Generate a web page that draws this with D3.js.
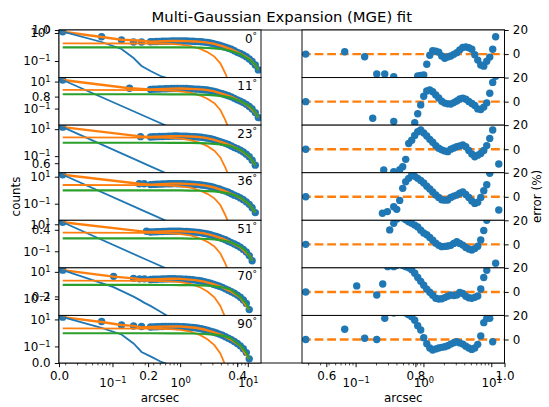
<!DOCTYPE html>
<html><head><meta charset="utf-8">
<script src="https://cdn.jsdelivr.net/npm/d3@7"></script>
<style>
body{margin:0;background:#fff}
svg{display:block}
text{font-family:"DejaVu Sans",sans-serif}
</style>
</head><body>
<svg id="chart" width="549" height="407"></svg>
<script>
// ---------------- data ----------------
const sectorAngles = [0, 11, 23, 36, 51, 70, 90];
const radiusGrid = [0.365, 0.404, 0.447, 0.495, 0.548, 0.607, 0.672, 0.744, 0.824, 0.912,
  1.01, 1.12, 1.24, 1.37, 1.52, 1.68, 1.86, 2.06, 2.28, 2.53, 2.80, 3.10, 3.43, 3.80, 4.21,
  4.66, 5.16, 5.71, 6.32, 7.00, 7.75, 8.58, 9.50, 10.5, 11.6, 12.9, 14.3];
const pointsPerSector = [37, 37, 36, 36, 35, 34, 34];

const innerRadius = [
  [0.0184, 0.0691, 0.136, 0.205, 0.269],
  [0.0184, 0.1788],
  [0.0184, 0.26],
  [0.0184, 0.2486, 0.2946],
  [0.0184, 0.3185],
  [0.0184, 0.1039, 0.205, 0.2512, 0.2977],
  [0.0184, 0.0691, 0.136, 0.205, 0.269]
];
const innerCounts = [
  [1.11, 0.738, 0.562, 0.477, 0.477],
  [13.14, 3.19],
  [14.06, 2.78],
  [14.06, 3.03, 3.03],
  [14.06, 3.03],
  [13.36, 4.64, 3.30, 3.03, 3.03],
  [14.8, 7.11, 3.91, 3.30, 3.03]
];
const innerError = [
  [0, 2, -2.2, -16.5, -16.5],
  [0, -13.8],
  [0, -17.3],
  [0, -13.7, -12.3],
  [0, 12],
  [0, 5, -2.5, 6.6, 21],
  [0, 8.5, 1, 0, 17.6]
];
const gridCounts = [
  [0.485, 0.493, 0.497, 0.501, 0.505, 0.509, 0.514, 0.518, 0.522, 0.522, 0.522, 0.518, 0.518, 0.514, 0.505, 0.497, 0.493, 0.485, 0.473, 0.458, 0.439, 0.418, 0.392, 0.364, 0.338, 0.311, 0.287, 0.262, 0.231, 0.204, 0.185, 0.164, 0.141, 0.118, 0.096, 0.072, 0.048],
  [2.64, 2.74, 2.78, 2.83, 2.88, 2.93, 2.98, 3.03, 3.08, 3.08, 3.08, 3.03, 3.03, 2.98, 2.88, 2.78, 2.74, 2.64, 2.51, 2.35, 2.15, 1.95, 1.70, 1.455, 1.25, 1.05, 0.887, 0.736, 0.570, 0.441, 0.359, 0.278, 0.205, 0.141, 0.092, 0.0505, 0.0215],
  [2.64, 2.74, 2.78, 2.83, 2.88, 2.93, 2.98, 3.03, 3.08, 3.08, 3.03, 3.03, 2.98, 2.88, 2.78, 2.74, 2.64, 2.51, 2.35, 2.15, 1.95, 1.70, 1.455, 1.25, 1.05, 0.887, 0.736, 0.570, 0.441, 0.359, 0.278, 0.205, 0.141, 0.092, 0.0505, 0.0215],
  [2.60, 2.70, 2.76, 2.83, 2.90, 2.95, 3.00, 3.05, 3.08, 3.05, 3.03, 3.00, 2.95, 2.86, 2.76, 2.70, 2.60, 2.46, 2.30, 2.10, 1.90, 1.66, 1.42, 1.22, 1.02, 0.86, 0.71, 0.55, 0.43, 0.35, 0.27, 0.20, 0.138, 0.090, 0.050, 0.022],
  [2.70, 2.76, 2.83, 2.88, 2.93, 2.98, 3.03, 3.05, 3.08, 3.05, 3.03, 2.98, 2.90, 2.80, 2.72, 2.62, 2.48, 2.32, 2.12, 1.92, 1.68, 1.44, 1.24, 1.04, 0.87, 0.72, 0.56, 0.44, 0.35, 0.27, 0.20, 0.138, 0.088, 0.048, 0.020],
  [2.74, 2.80, 2.86, 2.92, 2.97, 3.02, 3.06, 3.08, 3.06, 3.03, 2.98, 2.90, 2.80, 2.70, 2.60, 2.46, 2.30, 2.10, 1.88, 1.64, 1.42, 1.22, 1.02, 0.86, 0.71, 0.55, 0.43, 0.34, 0.26, 0.19, 0.13, 0.083, 0.045, 0.016],
  [2.76, 2.82, 2.88, 2.94, 2.99, 3.04, 3.08, 3.08, 3.05, 3.00, 2.94, 2.86, 2.76, 2.66, 2.55, 2.40, 2.22, 2.02, 1.80, 1.58, 1.36, 1.16, 0.98, 0.82, 0.67, 0.52, 0.40, 0.31, 0.23, 0.165, 0.11, 0.068, 0.035, 0.012]
];
const gridError = [
  [-18.8, -25, -25, -26, -27, -26, -25, -24, -18.2, -17.8, -17.4, -8.5, -1, 2.8, 2.3, 1.5, -1.5, -3.5, -2.4, -1.6, -0.2, 1.2, 3.5, 5.5, 6, 5.3, 4, -0.5, -5, -9, -10, -6, -2.5, 4, 14.4, 25, 30],
  [-16.5, -25, -26, -27, -27, -26, -24, -17.5, -10, -2.7, 4.5, 8.8, 9.8, 8.2, 5.6, 3, 0.4, -1.2, -1.8, -2, -0.8, 0.5, 2.3, 2.9, 2, 0.2, -1.5, -3.2, -6, -6.5, -4.5, -1, 7, 16, 21, 26, 30],
  [-18.6, -20, -17, -14.5, -8.4, 4.8, 7.5, 11.5, 14.5, 16, 13.5, 11, 8.2, 5.8, 3, 0.8, -0.5, -1.4, -2, 0, 1, 2, 2.8, 3.5, 2.1, -1, -4, -6.2, -4.9, -3.5, -1, 3, 9, 16, 24, -12.3],
  [-8.2, -10.4, -3, 7, 12.5, 15.3, 18, 17, 15.3, 13.5, 11.5, 8.8, 6.5, 4, 1.5, -0.5, -2.5, -2.8, -2.6, -0.5, 0.6, 1.4, 3, 4, 2, -0.5, -3.4, -5.5, -4.5, -0.5, 5, 10, 19.5, 24, 26, -11],
  [17.5, 21, 23, 22, 20.5, 18.8, 17.5, 16, 14.5, 11.8, 9.5, 8, 5.8, 3.5, 1, -0.8, -1.9, -1.7, -1.4, -0.8, 0.8, 2.3, 0.8, -0.6, -2.5, -3.8, -4.7, -3.5, -1.5, 3.6, 11.5, 20, 24, 25, -15.7],
  [21, 22, 23, 22, 21, 20, 18.5, 15.5, 12, 8.8, 5.5, 2.3, -0.3, -2.8, -5.2, -5.8, -5.6, -4.7, -3.5, -2.5, -3, -2.6, -0.5, -1.2, -3.6, -4.8, -5.2, -4.5, -3.4, 2.5, 12, 18, 24, 26],
  [22, 24, 25, 24, 22, 20.5, 19, 16, 11.5, 7.9, 1.5, -3.5, -7, -8.7, -7.8, -7, -6.5, -6, -5.2, -3.8, -2.7, -1.8, -2.8, -3.8, -5.5, -7, -8.2, -7, -4, 3, 14, 17.6, 17.6, -1.8]
];

// total model (thick orange line)
const modelRadius = [
  [0.0184, 0.0691, 0.136, 0.205, 0.269, 0.365, 0.744, 1.01, 1.68, 2.28, 3.10, 4.21, 5.71, 7.75, 10.5, 12.9, 14.3],
  [0.0184, 0.1788, 0.365, 0.744, 1.01, 1.68, 2.28, 3.10, 4.21, 5.71, 7.75, 10.5, 12.9, 14.3],
  [0.0184, 0.26, 0.365, 0.744, 1.01, 1.68, 2.28, 3.10, 4.21, 5.71, 7.75, 10.5, 12.9],
  [0.0184, 0.2486, 0.365, 0.744, 1.01, 1.68, 2.28, 3.10, 4.21, 5.71, 7.75, 10.5, 12.9],
  [0.0184, 0.3185, 0.365, 0.744, 1.01, 1.68, 2.28, 3.10, 4.21, 5.71, 7.75, 10.5, 11.6],
  [0.0184, 0.1039, 0.205, 0.2512, 0.2977, 0.365, 0.744, 1.01, 1.68, 2.28, 3.10, 4.21, 5.71, 7.75, 10.5],
  [0.0184, 0.0691, 0.136, 0.205, 0.269, 0.365, 0.744, 1.01, 1.68, 2.28, 3.10, 4.21, 5.71, 7.75, 10.5]
];
const modelCounts = [
  [1.11, 0.72, 0.575, 0.55, 0.53, 0.485, 0.518, 0.522, 0.497, 0.473, 0.418, 0.338, 0.262, 0.185, 0.118, 0.072, 0.048],
  [13.14, 3.19, 2.64, 3.03, 3.08, 2.78, 2.51, 1.95, 1.25, 0.736, 0.359, 0.141, 0.0505, 0.0215],
  [14.06, 2.9, 2.64, 3.03, 3.03, 2.74, 2.35, 1.70, 1.05, 0.570, 0.278, 0.092, 0.0215],
  [14.06, 3.0, 2.60, 3.05, 3.05, 2.70, 2.30, 1.66, 1.02, 0.55, 0.27, 0.09, 0.022],
  [14.06, 2.75, 2.70, 3.05, 3.05, 2.62, 2.12, 1.44, 0.87, 0.44, 0.20, 0.048, 0.020],
  [13.36, 4.4, 3.3, 2.85, 2.75, 2.74, 3.08, 3.03, 2.46, 1.88, 1.22, 0.71, 0.34, 0.13, 0.016],
  [14.8, 6.5, 3.85, 3.3, 2.6, 2.76, 3.08, 3.00, 2.40, 1.80, 1.16, 0.67, 0.31, 0.11, 0.012]
];

// narrowest Gaussian (blue)
const narrowRadius = [
  [0.0184, 0.0691, 0.136, 0.205, 0.269, 0.365, 0.5125, 0.72],
  [0.0184, 0.1788, 0.365, 0.72],
  [0.0184, 0.26, 0.365, 0.72],
  [0.0184, 0.2486, 0.2946, 0.365, 0.72],
  [0.0184, 0.3185, 0.365, 0.72],
  [0.0184, 0.1039, 0.205, 0.2512, 0.2977, 0.365, 0.5125, 0.72],
  [0.0184, 0.0691, 0.136, 0.205, 0.269, 0.365, 0.5125, 0.72]
];
const narrowCounts = [
  [1.13, 0.477, 0.268, 0.128, 0.0663, 0.044, 0.0291, 0.0228],
  [13.14, 0.0858, 0.01756, 0.0039],
  [14.06, 0.0372, 0.01756, 0.0039],
  [14.06, 0.0412, 0.0283, 0.01756, 0.0039],
  [14.06, 0.0235, 0.01756, 0.0039],
  [13.36, 0.736, 0.146, 0.0843, 0.0505, 0.0303, 0.0113, 0.0039],
  [14.8, 2.35, 0.774, 0.167, 0.039, 0.0182, 0.0077, 0.0039]
];

// middle Gaussian (orange)
const middleRadius = [0.0184, 0.365, 0.72, 1.01, 1.42, 1.99, 2.53, 3.21, 3.93, 4.66, 5.52];
const middleCounts = [
  [0.429, 0.422, 0.408, 0.385, 0.343, 0.270, 0.208, 0.1436, 0.0828, 0.0358, 0.0131],
  [2.39, 2.31, 2.16, 1.91, 1.50, 0.92, 0.53, 0.247, 0.078, 0.0138, 0.0017],
  [2.47, 2.39, 2.23, 1.98, 1.56, 0.95, 0.55, 0.255, 0.081, 0.0143, 0.0018],
  [2.43, 2.35, 2.19, 1.94, 1.53, 0.93, 0.54, 0.25, 0.08, 0.014, 0.0018],
  [2.39, 2.31, 2.15, 1.90, 1.48, 0.89, 0.50, 0.23, 0.07, 0.012, 0.0015],
  [2.25, 2.18, 2.0, 1.72, 1.28, 0.70, 0.35, 0.13, 0.03, 0.004, 0.0004],
  [2.15, 2.08, 1.92, 1.66, 1.24, 0.68, 0.34, 0.125, 0.03, 0.004, 0.0004]
];

// widest Gaussian (green)
const wideRadius = [
  [0.0184, 0.365, 0.72, 1.01, 1.42, 1.99, 2.53, 3.21, 3.93, 4.66, 5.52, 7.76, 10.9, 12.9, 14.3],
  [0.0184, 0.365, 0.72, 1.01, 1.42, 1.99, 2.53, 3.21, 3.93, 4.66, 5.52, 7.76, 10.9, 12.9, 14.3],
  [0.0184, 0.365, 0.72, 1.01, 1.42, 1.99, 2.53, 3.21, 3.93, 4.66, 5.52, 7.76, 10.5, 12.9],
  [0.0184, 0.365, 0.72, 1.01, 1.42, 1.99, 2.53, 3.21, 3.93, 4.66, 5.52, 7.76, 10.5, 12.9],
  [0.0184, 0.365, 0.72, 1.01, 1.42, 1.99, 2.53, 3.21, 3.93, 4.66, 5.52, 7.76, 9.5, 11.6],
  [0.0184, 0.365, 0.72, 1.01, 1.42, 1.99, 2.53, 3.21, 3.93, 4.66, 5.52, 7.76, 9.5, 10.5],
  [0.0184, 0.365, 0.72, 1.01, 1.42, 1.99, 2.53, 3.21, 3.93, 4.66, 5.52, 7.76, 9.5, 10.5]
];
const wideCounts = [
  [0.3085, 0.3085, 0.306, 0.306, 0.3035, 0.2985, 0.291, 0.282, 0.268, 0.253, 0.233, 0.178, 0.105, 0.075, 0.048],
  [1.15, 1.15, 1.13, 1.13, 1.11, 1.07, 1.02, 0.95, 0.86, 0.76, 0.64, 0.36, 0.14, 0.055, 0.0215],
  [0.98, 0.98, 0.97, 0.97, 0.95, 0.92, 0.88, 0.82, 0.74, 0.65, 0.55, 0.30, 0.10, 0.0215],
  [0.98, 0.98, 0.97, 0.96, 0.94, 0.91, 0.87, 0.81, 0.73, 0.64, 0.54, 0.29, 0.095, 0.022],
  [0.92, 0.92, 0.91, 0.90, 0.88, 0.85, 0.81, 0.75, 0.67, 0.58, 0.48, 0.22, 0.10, 0.020],
  [1.07, 1.07, 1.06, 1.05, 1.03, 0.99, 0.94, 0.86, 0.75, 0.64, 0.50, 0.14, 0.045, 0.016],
  [0.95, 0.95, 0.94, 0.93, 0.91, 0.87, 0.82, 0.75, 0.65, 0.55, 0.43, 0.115, 0.035, 0.012]
];

// axis limits and ticks
const radiusDomain = [0.016218, 15.668];
const radiusMajorTicks = [0.1, 1, 10];
const radiusMinorTicks = [0.02, 0.03, 0.04, 0.05, 0.06, 0.07, 0.08, 0.09,
  0.2, 0.3, 0.4, 0.5, 0.6, 0.7, 0.8, 0.9, 2, 3, 4, 5, 6, 7, 8, 9];
const countDomains = [[0.02559, 1.2797], [0.005924, 19.785], [0.005924, 19.785], [0.005924, 19.785],
  [0.005924, 19.785], [0.005924, 19.785], [0.005924, 19.785]];
const countTicks = [[1, 0.1], [10, 0.1], [10, 0.1], [10, 0.1], [10, 0.1], [10, 0.1], [10, 0.1]];
const errorDomain = [-19.5, 20];
const errorTicks = [0, 20];
const frameTicks = [0, 0.2, 0.4, 0.6, 0.8, 1.0];

// ---------------- drawing ----------------
const C0 = '#1f77b4', C1 = '#ff7f0e', C2 = '#2ca02c';
const FS = 11.9, TICK = 4.17, MINOR = 2.38, PAD = 4.17, SPINE = 0.95;
const frame = {left: 59, right: 504.5, top: 30, bottom: 363};
const leftCol = [59, 261], rightCol = [302, 504.5];
const nP = sectorAngles.length;
const ph = (frame.bottom - frame.top) / nP;

const svg = d3.select('#chart');
svg.append('rect').attr('width', 549).attr('height', 407).attr('fill', '#fff');

function styleAxis(g) {
  g.attr('font-size', FS).attr('font-family', '"DejaVu Sans", sans-serif');
  g.select('.domain').remove();
  g.selectAll('line').attr('stroke', '#000').attr('stroke-width', SPINE);
  g.selectAll('text').attr('fill', '#000');
}
function logLabel(sel, v) {
  const e = Math.round(Math.log10(v));
  sel.text(null);
  sel.append('tspan').text('10');
  sel.append('tspan').attr('dy', '-0.48em').attr('font-size', '0.7em')
    .text(e < 0 ? '\u2212' + (-e) : String(e));
}

// parent frame axes
const fx = d3.scaleLinear().domain([0, 1]).range([frame.left, frame.right]);
const fy = d3.scaleLinear().domain([0, 1]).range([frame.bottom, frame.top]);
svg.append('rect').attr('x', frame.left).attr('y', frame.top)
  .attr('width', frame.right - frame.left).attr('height', frame.bottom - frame.top)
  .attr('fill', '#fff').attr('stroke', '#000').attr('stroke-width', SPINE);
svg.append('g').attr('transform', `translate(0,${frame.bottom})`)
  .call(d3.axisBottom(fx).tickValues(frameTicks).tickFormat(d3.format('.1f')).tickSize(TICK).tickPadding(PAD))
  .call(styleAxis).call(g => g.selectAll('text').attr('dy', '0.75em'));
svg.append('g').attr('transform', `translate(${frame.left},0)`)
  .call(d3.axisLeft(fy).tickValues(frameTicks).tickFormat(d3.format('.1f')).tickSize(TICK).tickPadding(PAD))
  .call(styleAxis);

const xL = d3.scaleLog().domain(radiusDomain).range(leftCol);
const xR = d3.scaleLog().domain(radiusDomain).range(rightCol);
const yE = d3.scaleLinear().domain(errorDomain);

for (let p = 0; p < nP; p++) {
  const top = frame.top + p * ph, bottom = top + ph;
  const n = pointsPerSector[p];
  const radius = innerRadius[p].concat(radiusGrid.slice(0, n));
  const counts = innerCounts[p].concat(gridCounts[p]);
  const errors = innerError[p].concat(gridError[p]);
  const points = radius.map((r, i) => ({r, c: counts[i], e: errors[i]}));

  const yC = d3.scaleLog().domain(countDomains[p]).range([bottom, top]);
  const yErr = yE.copy().range([bottom, top]);

  const cidL = 'clipL' + p, cidR = 'clipR' + p;
  const defs = svg.append('defs');
  defs.append('clipPath').attr('id', cidL).append('rect')
    .attr('x', leftCol[0]).attr('y', top).attr('width', leftCol[1] - leftCol[0]).attr('height', ph);
  defs.append('clipPath').attr('id', cidR).append('rect')
    .attr('x', rightCol[0]).attr('y', top).attr('width', rightCol[1] - rightCol[0]).attr('height', ph);

  // ---- left panel: counts ----
  const gl = svg.append('g');
  gl.append('rect').attr('x', leftCol[0]).attr('y', top).attr('width', leftCol[1] - leftCol[0]).attr('height', ph).attr('fill', '#fff');
  const pl = gl.append('g').attr('clip-path', `url(#${cidL})`);
  pl.selectAll('circle').data(points).join('circle')
    .attr('cx', d => xL(d.r)).attr('cy', d => yC(d.c)).attr('r', 3.7).attr('fill', C0);
  const lineL = d3.line().x(d => xL(d[0])).y(d => yC(d[1]));
  const pairs = (rs, vs) => rs.map((r, i) => [r, vs[i]]);
  pl.append('path').attr('d', lineL(pairs(modelRadius[p], modelCounts[p])))
    .attr('fill', 'none').attr('stroke', C1).attr('stroke-width', 2.38);
  pl.append('path').attr('d', lineL(pairs(narrowRadius[p], narrowCounts[p])))
    .attr('fill', 'none').attr('stroke', C0).attr('stroke-width', 1.79);
  pl.append('path').attr('d', lineL(pairs(middleRadius, middleCounts[p])))
    .attr('fill', 'none').attr('stroke', C1).attr('stroke-width', 1.79);
  pl.append('path').attr('d', lineL(pairs(wideRadius[p], wideCounts[p])))
    .attr('fill', 'none').attr('stroke', C2).attr('stroke-width', 2.2);
  const ang = gl.append('text').attr('x', leftCol[0] + 0.98 * (leftCol[1] - leftCol[0])).attr('y', top + 12.5)
    .attr('text-anchor', 'end').attr('font-size', FS);
  ang.append('tspan').text(sectorAngles[p]);
  ang.append('tspan').attr('dy', '-0.42em').attr('font-size', '0.75em').text('\u00B0');
  gl.append('rect').attr('x', leftCol[0]).attr('y', top).attr('width', leftCol[1] - leftCol[0]).attr('height', ph)
    .attr('fill', 'none').attr('stroke', '#000').attr('stroke-width', SPINE);
  gl.append('g').attr('transform', `translate(${leftCol[0]},0)`)
    .call(d3.axisLeft(yC).tickValues(countTicks[p]).tickFormat(() => '').tickSize(TICK).tickPadding(PAD))
    .call(styleAxis)
    .call(g => g.selectAll('text').each(function(d) { logLabel(d3.select(this), d); }));

  // ---- right panel: residuals ----
  const gr = svg.append('g');
  gr.append('rect').attr('x', rightCol[0]).attr('y', top).attr('width', rightCol[1] - rightCol[0]).attr('height', ph).attr('fill', '#fff');
  const pr = gr.append('g').attr('clip-path', `url(#${cidR})`);
  pr.append('line').attr('x1', rightCol[0]).attr('x2', rightCol[1]).attr('y1', yErr(0)).attr('y2', yErr(0))
    .attr('stroke', C1).attr('stroke-width', 2.38).attr('stroke-dasharray', '8.8,3.8');
  pr.selectAll('circle').data(points).join('circle')
    .attr('cx', d => xR(d.r)).attr('cy', d => yErr(d.e)).attr('r', 3.7).attr('fill', C0);
  gr.append('rect').attr('x', rightCol[0]).attr('y', top).attr('width', rightCol[1] - rightCol[0]).attr('height', ph)
    .attr('fill', 'none').attr('stroke', '#000').attr('stroke-width', SPINE);
  gr.append('g').attr('transform', `translate(${rightCol[1]},0)`)
    .call(d3.axisRight(yErr).tickValues(errorTicks).tickFormat(d3.format('d')).tickSize(TICK).tickPadding(PAD))
    .call(styleAxis);

  if (p === nP - 1) {
    [[xL, leftCol], [xR, rightCol]].forEach(([sc, col]) => {
      svg.append('g').attr('transform', `translate(0,${bottom})`)
        .call(d3.axisBottom(sc).tickValues(radiusMinorTicks).tickFormat(() => '').tickSize(MINOR))
        .call(styleAxis).call(g => g.selectAll('line').attr('stroke-width', 0.7))
        .call(g => g.selectAll('text').remove());
      svg.append('g').attr('transform', `translate(0,${bottom})`)
        .call(d3.axisBottom(sc).tickValues(radiusMajorTicks).tickFormat(() => '').tickSize(TICK).tickPadding(PAD))
        .call(styleAxis)
        .call(g => g.selectAll('text').attr('dy', '1.3em').each(function(d) { logLabel(d3.select(this), d); }));
      svg.append('text').attr('x', (col[0] + col[1]) / 2).attr('y', 401.5)
        .attr('text-anchor', 'middle').attr('font-size', FS).text('arcsec');
    });
  }
}

svg.append('text').attr('transform', `translate(20,${(frame.top + frame.bottom) / 2}) rotate(-90)`)
  .attr('text-anchor', 'middle').attr('font-size', FS).text('counts');
svg.append('text').attr('transform', `translate(541,${(frame.top + frame.bottom) / 2}) rotate(-90)`)
  .attr('text-anchor', 'middle').attr('font-size', FS).text('error (%)');
svg.append('text').attr('x', (frame.left + frame.right) / 2).attr('y', 22)
  .attr('text-anchor', 'middle').attr('font-size', 14.8).text('Multi-Gaussian Expansion (MGE) fit');
</script>
</body></html>
